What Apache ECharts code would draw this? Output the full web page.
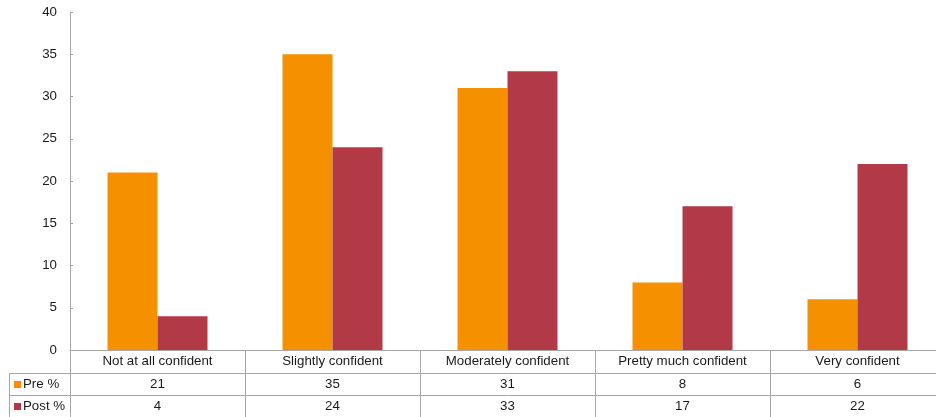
<!DOCTYPE html>
<html>
<head>
<meta charset="utf-8">
<script src="https://cdn.jsdelivr.net/npm/echarts@6/dist/echarts.min.js"></script>
<style>
  html, body { margin: 0; padding: 0; background: #fff; overflow: hidden; width: 936px; height: 417px; }
  #chart { width: 945px; height: 417px; }
</style>
</head>
<body>
<div id="chart"></div>
<script>
// Confidence levels and survey percentages before and after
const categories = ['Not at all confident', 'Slightly confident', 'Moderately confident', 'Pretty much confident', 'Very confident'];
const preValues = [21, 35, 31, 8, 6];
const postValues = [4, 24, 33, 17, 22];
const seriesNames = ['Pre %', 'Post %'];
const yTicks = { min: 0, max: 40, interval: 5 };

const preColor = '#F59100';
const postColor = '#B23A46';
const lineColor = '#A6A6A6';
const textColor = '#1a1a1a';
const font = 'Liberation Sans, Arial, sans-serif';
const fontSize = 13.3;

const chart = echarts.init(document.getElementById('chart'));

// Shared settings for the data table rows drawn as offset category axes
function tableAxis(offset, values) {
  return {
    type: 'category',
    data: categories,
    position: 'bottom',
    offset: offset,
    axisLine: { show: true, lineStyle: { color: lineColor, width: 1 } },
    axisTick: { show: false },
    axisLabel: {
      show: true,
      margin: 5,
      fontSize: fontSize,
      fontFamily: font,
      color: textColor,
      formatter: function (v, i) { return String(values[i]); }
    },
    splitLine: { show: false }
  };
}

// One legend block per table row key
function rowKey(name, top) {
  return {
    orient: 'vertical',
    left: 14,
    top: top,
    padding: 0,
    itemWidth: 7,
    itemHeight: 7,
    itemGap: 0,
    icon: 'rect',
    textStyle: { fontSize: fontSize, fontFamily: font, color: textColor, padding: [0, 0, 0, -3] },
    data: [name]
  };
}

chart.setOption({
  animation: false,
  backgroundColor: '#fff',
  grid: { left: 70, top: 12, right: 0, bottom: 67, containLabel: false },
  legend: [rowKey(seriesNames[0], 378), rowKey(seriesNames[1], 400)],
  xAxis: [
    {
      type: 'category',
      data: categories,
      position: 'bottom',
      axisLine: { show: true, lineStyle: { color: lineColor, width: 1 } },
      axisTick: { show: true, length: 67, lineStyle: { color: lineColor, width: 1 } },
      axisLabel: { margin: 5, fontSize: fontSize, fontFamily: font, color: textColor, interval: 0 },
      splitLine: { show: false }
    },
    tableAxis(23, preValues),
    tableAxis(45, postValues)
  ],
  yAxis: {
    type: 'value',
    min: yTicks.min,
    max: yTicks.max,
    interval: yTicks.interval,
    axisLine: { show: true, lineStyle: { color: lineColor, width: 1 } },
    axisTick: { show: true, inside: true, length: 3, lineStyle: { color: lineColor } },
    axisLabel: { margin: 13, fontSize: fontSize, fontFamily: font, color: textColor },
    splitLine: { show: false }
  },
  graphic: [
    // left part of the data table: row borders and outer edge
    { type: 'line', shape: { x1: 9.5, y1: 373.5, x2: 70, y2: 373.5 }, style: { stroke: lineColor, lineWidth: 1 } },
    { type: 'line', shape: { x1: 9.5, y1: 395.5, x2: 70, y2: 395.5 }, style: { stroke: lineColor, lineWidth: 1 } },
    { type: 'line', shape: { x1: 9.5, y1: 373.5, x2: 9.5, y2: 417 }, style: { stroke: lineColor, lineWidth: 1 } }
  ],
  series: [
    {
      name: seriesNames[0],
      type: 'bar',
      data: preValues,
      barWidth: 50,
      barGap: '0%',
      itemStyle: { color: preColor }
    },
    {
      name: seriesNames[1],
      type: 'bar',
      data: postValues,
      barWidth: 50,
      barGap: '0%',
      itemStyle: { color: postColor }
    }
  ]
});
</script>
</body>
</html>
